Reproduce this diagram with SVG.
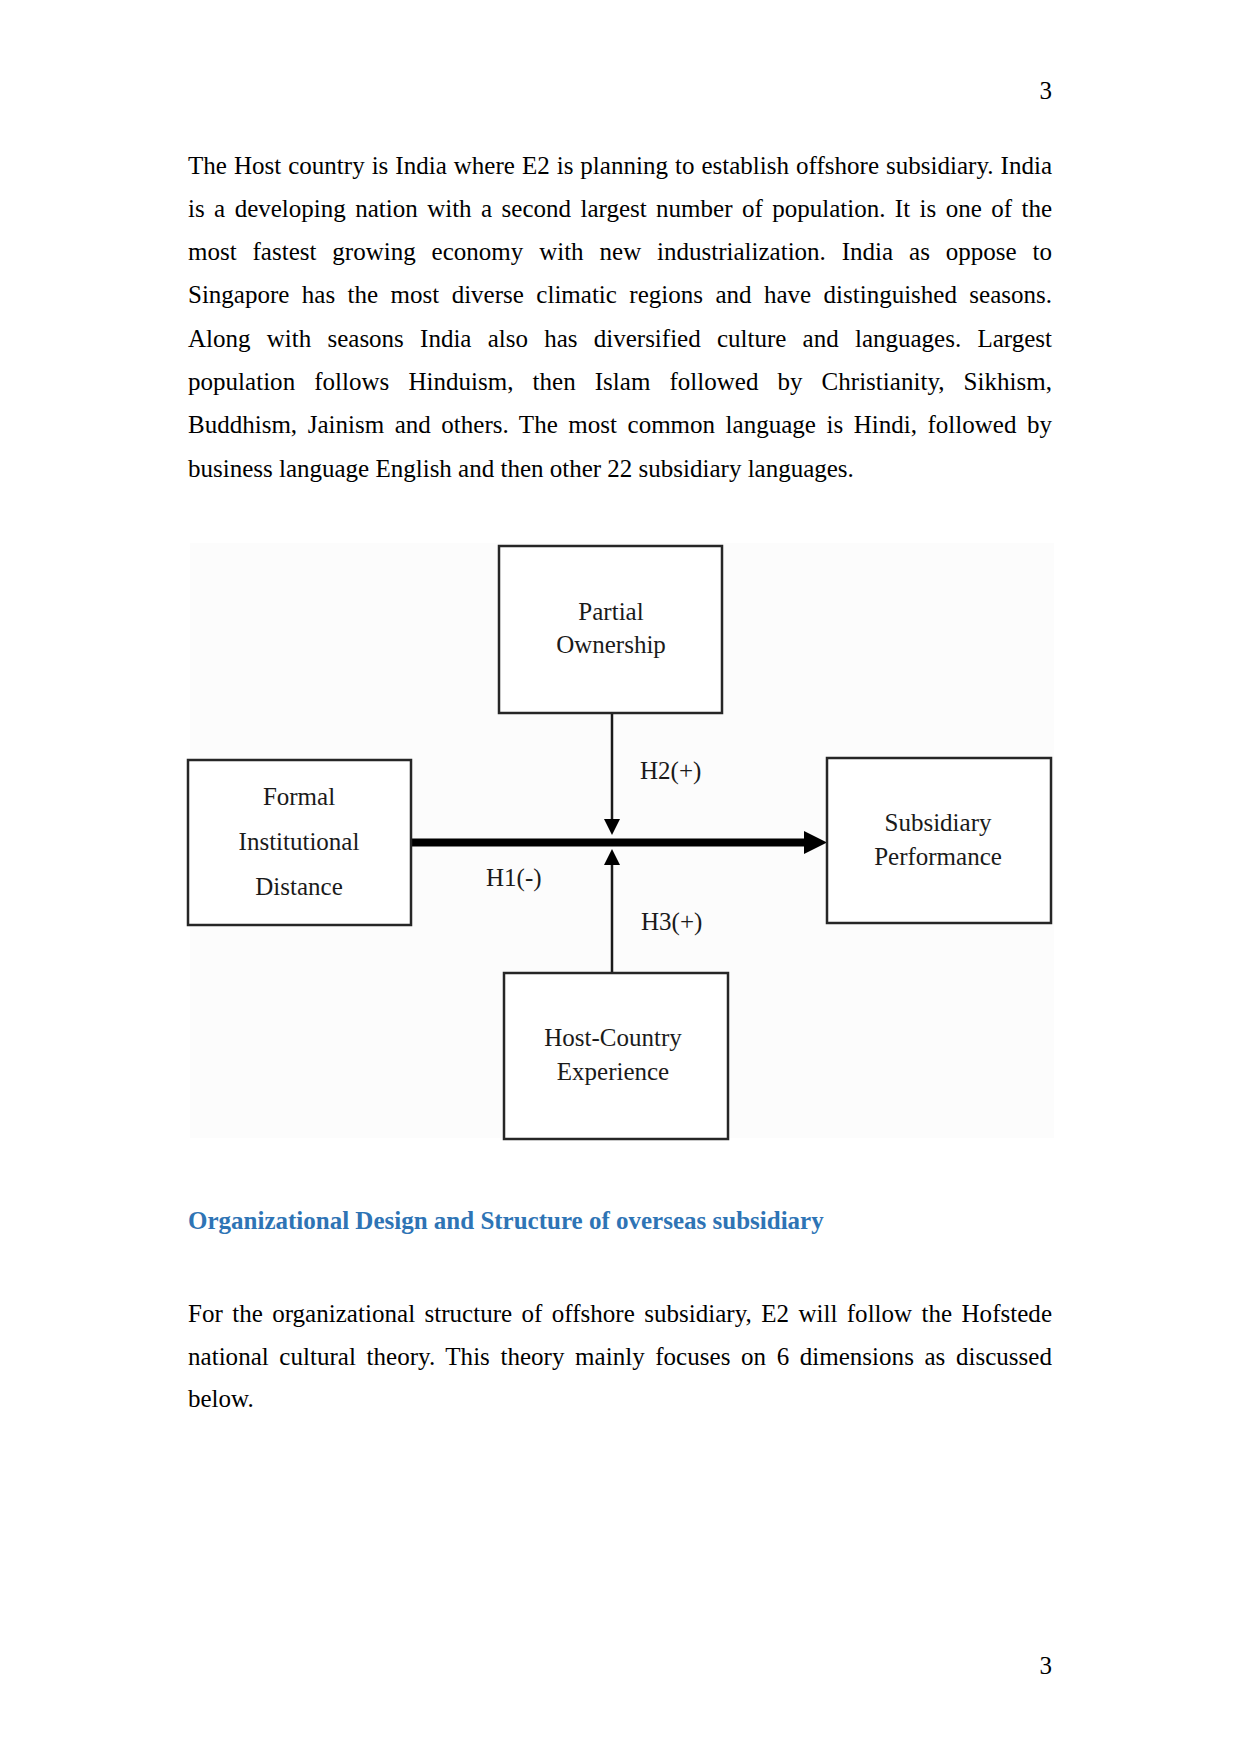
<svg xmlns="http://www.w3.org/2000/svg" width="1241" height="1754" viewBox="0 0 1241 1754">
<style>
.body{font-family:"Liberation Serif","Times New Roman",serif;font-size:25px;fill:#000}
.node rect{fill:#fff;stroke:#262626;stroke-width:2.5}
.lbl{font-family:"Liberation Serif","Times New Roman",serif;font-size:25px;fill:#1a1a1a}
.ctr{text-anchor:middle}
.head{font-family:"Liberation Serif","Times New Roman",serif;font-size:25px;font-weight:bold;fill:#2E74B5}
</style>
<rect x="0" y="0" width="1241" height="1754" fill="#fff"/>
<text class="body" x="1052" y="99" text-anchor="end">3</text>
<g id="para1">
<text class="body" x="188" y="173.5" word-spacing="0.7" textLength="864" lengthAdjust="spacing">The Host country is India where E2 is planning to establish offshore subsidiary. India</text>
<text class="body" x="188" y="216.8" word-spacing="3.16" textLength="864" lengthAdjust="spacing">is a developing nation with a second largest number of population. It is one of the</text>
<text class="body" x="188" y="260.1" word-spacing="9.67" textLength="864" lengthAdjust="spacing">most fastest growing economy with new industrialization. India as oppose to</text>
<text class="body" x="188" y="303.4" word-spacing="6.2" textLength="864" lengthAdjust="spacing">Singapore has the most diverse climatic regions and have distinguished seasons.</text>
<text class="body" x="188" y="346.7" word-spacing="9.95" textLength="864" lengthAdjust="spacing">Along with seasons India also has diversified culture and languages. Largest</text>
<text class="body" x="188" y="390" word-spacing="12.76" textLength="864" lengthAdjust="spacing">population follows Hinduism, then Islam followed by Christianity, Sikhism,</text>
<text class="body" x="188" y="433.3" word-spacing="4.3" textLength="864" lengthAdjust="spacing">Buddhism, Jainism and others. The most common language is Hindi, followed by</text>
<text class="body" x="188" y="476.6">business language English and then other 22 subsidiary languages.</text>
</g>
<rect x="190" y="543" width="864" height="595" fill="#fcfcfc"/>
<g id="connectors">
<line x1="411" y1="842.5" x2="806" y2="842.5" stroke="#000" stroke-width="8"/>
<polygon points="804,831 827,842.5 804,854" fill="#000"/>
<line x1="612" y1="713" x2="612" y2="821" stroke="#1a1a1a" stroke-width="2.5"/>
<polygon points="604,819 620,819 612,835" fill="#000"/>
<line x1="612" y1="973" x2="612" y2="863" stroke="#1a1a1a" stroke-width="2.5"/>
<polygon points="604,865 620,865 612,849" fill="#000"/>
<text class="lbl" x="640" y="779">H2(+)</text>
<text class="lbl" x="486" y="886">H1(-)</text>
<text class="lbl" x="641" y="930">H3(+)</text>
</g>
<g id="node-partial-ownership" class="node">
<rect x="499" y="546" width="223" height="167"/>
<text class="lbl ctr" x="611" y="620">Partial</text>
<text class="lbl ctr" x="611" y="653">Ownership</text>
</g>
<g id="node-formal-institutional-distance" class="node">
<rect x="188" y="760" width="223" height="165"/>
<text class="lbl ctr" x="299" y="805">Formal</text>
<text class="lbl ctr" x="299" y="850">Institutional</text>
<text class="lbl ctr" x="299" y="895">Distance</text>
</g>
<g id="node-subsidiary-performance" class="node">
<rect x="827" y="758" width="224" height="165"/>
<text class="lbl ctr" x="938" y="831">Subsidiary</text>
<text class="lbl ctr" x="938" y="865">Performance</text>
</g>
<g id="node-host-country-experience" class="node">
<rect x="504" y="973" width="224" height="166"/>
<text class="lbl ctr" x="613" y="1046">Host-Country</text>
<text class="lbl ctr" x="613" y="1080">Experience</text>
</g>
<text class="head" x="188" y="1228.5">Organizational Design and Structure of overseas subsidiary</text>
<g id="para2">
<text class="body" x="188" y="1321.7" word-spacing="3.05" textLength="864" lengthAdjust="spacing">For the organizational structure of offshore subsidiary, E2 will follow the Hofstede</text>
<text class="body" x="188" y="1364.5" word-spacing="4.31" textLength="864" lengthAdjust="spacing">national cultural theory. This theory mainly focuses on 6 dimensions as discussed</text>
<text class="body" x="188" y="1407.3">below.</text>
</g>
<text class="body" x="1052" y="1674" text-anchor="end">3</text>
</svg>
